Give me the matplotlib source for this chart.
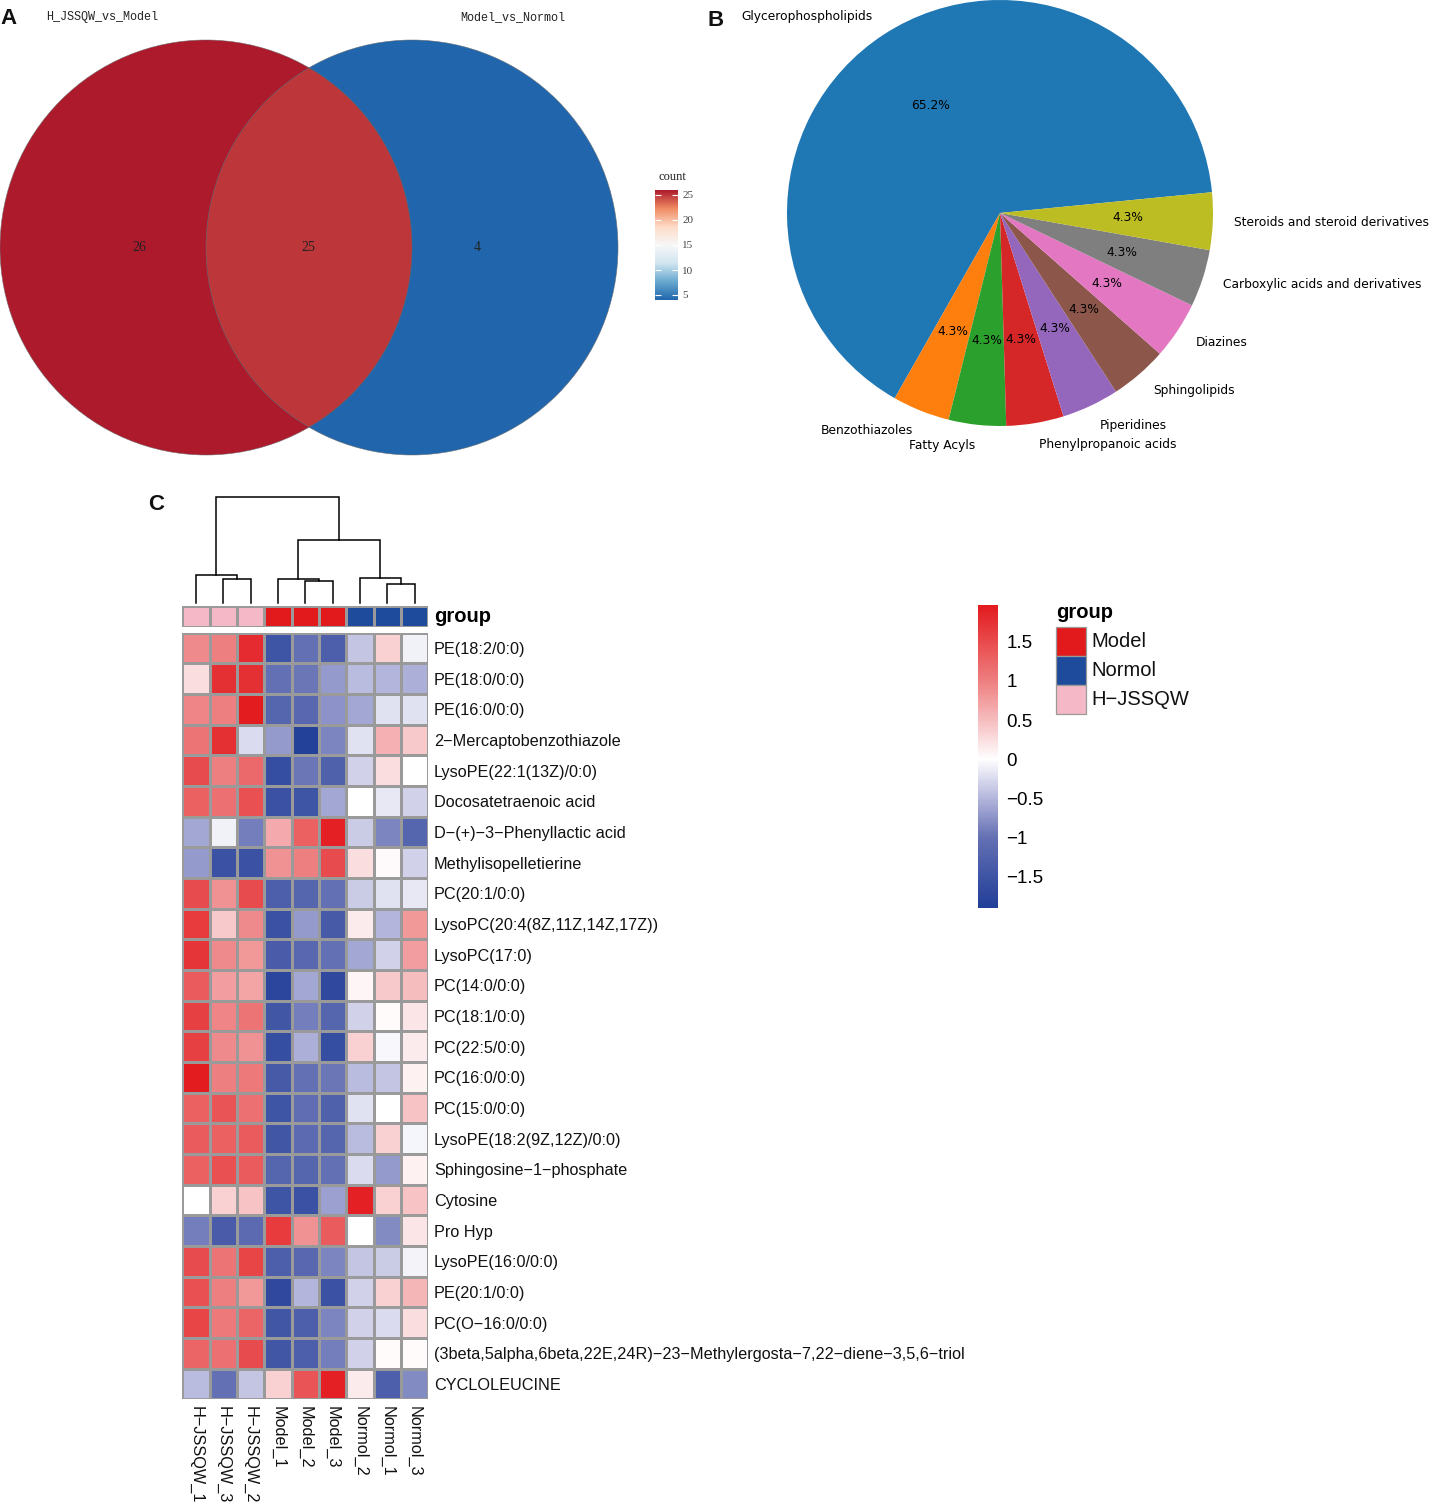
import numpy as np
import matplotlib
matplotlib.use("Agg")
import matplotlib.pyplot as plt
from matplotlib.patches import Ellipse, Rectangle
from matplotlib.colors import LinearSegmentedColormap, Normalize, ListedColormap
import matplotlib.colorbar as mcolorbar

# ---------------- data ----------------
venn_sets = ["H_JSSQW_vs_Model", "Model_vs_Normol"]
venn_counts = [26, 25, 4]          # left only, shared, right only
venn_ticks = [5, 10, 15, 20, 25]

pie_labels = ["Glycerophospholipids", "Benzothiazoles", "Fatty Acyls",
              "Phenylpropanoic acids", "Piperidines", "Sphingolipids",
              "Diazines", "Carboxylic acids and derivatives",
              "Steroids and steroid derivatives"]
pie_counts = [15, 1, 1, 1, 1, 1, 1, 1, 1]

heat_cols = ["H−JSSQW_1", "H−JSSQW_3", "H−JSSQW_2", "Model_1", "Model_2",
             "Model_3", "Normol_2", "Normol_1", "Normol_3"]
col_groups = ["H−JSSQW", "H−JSSQW", "H−JSSQW", "Model", "Model", "Model",
              "Normol", "Normol", "Normol"]
group_names = ["Model", "Normol", "H−JSSQW"]

heat_rows = ["PE(18:2/0:0)", "PE(18:0/0:0)", "PE(16:0/0:0)",
             "2−Mercaptobenzothiazole", "LysoPE(22:1(13Z)/0:0)",
             "Docosatetraenoic acid", "D−(+)−3−Phenyllactic acid",
             "Methylisopelletierine", "PC(20:1/0:0)",
             "LysoPC(20:4(8Z,11Z,14Z,17Z))", "LysoPC(17:0)", "PC(14:0/0:0)",
             "PC(18:1/0:0)", "PC(22:5/0:0)", "PC(16:0/0:0)", "PC(15:0/0:0)",
             "LysoPE(18:2(9Z,12Z)/0:0)", "Sphingosine−1−phosphate", "Cytosine",
             "Pro Hyp", "LysoPE(16:0/0:0)", "PE(20:1/0:0)", "PC(O−16:0/0:0)",
             "(3beta,5alpha,6beta,22E,24R)−23−Methylergosta−7,22−diene−3,5,6−triol",
             "CYCLOLEUCINE"]

heat_values = [
    [0.9, 1.0, 1.8, -1.5, -1.0, -1.3, -0.4, 0.35, -0.1],
    [0.25, 1.75, 1.75, -1.0, -0.95, -0.7, -0.45, -0.5, -0.55],
    [0.95, 1.0, 1.95, -1.2, -1.15, -0.75, -0.6, -0.2, -0.2],
    [1.1, 1.75, -0.25, -0.7, -1.85, -0.85, -0.2, 0.6, 0.4],
    [1.5, 1.0, 1.2, -1.6, -0.95, -1.25, -0.3, 0.25, 0.0],
    [1.3, 1.15, 1.45, -1.55, -1.5, -0.6, 0.0, -0.15, -0.3],
    [-0.6, -0.1, -0.9, 0.65, 1.3, 1.9, -0.35, -0.85, -1.2],
    [-0.7, -1.55, -1.55, 0.85, 1.0, 1.5, 0.25, 0.05, -0.3],
    [1.5, 0.85, 1.5, -1.3, -1.2, -1.0, -0.35, -0.2, -0.15],
    [1.65, 0.4, 0.9, -1.55, -0.7, -1.4, 0.15, -0.5, 0.8],
    [1.7, 0.9, 0.8, -1.35, -1.15, -1.0, -0.6, -0.3, 0.75],
    [1.35, 0.75, 0.7, -1.75, -0.6, -1.7, 0.08, 0.4, 0.5],
    [1.6, 0.95, 1.1, -1.45, -0.9, -1.2, -0.3, 0.02, 0.2],
    [1.6, 0.9, 0.85, -1.6, -0.55, -1.6, 0.35, -0.05, 0.15],
    [1.95, 1.0, 1.05, -1.4, -1.0, -0.95, -0.45, -0.4, 0.1],
    [1.3, 1.4, 1.15, -1.5, -1.05, -1.25, -0.2, 0.0, 0.45],
    [1.35, 1.3, 1.35, -1.45, -1.1, -1.2, -0.45, 0.35, -0.07],
    [1.3, 1.45, 1.35, -1.2, -1.2, -1.0, -0.25, -0.7, 0.1],
    [0.0, 0.35, 0.45, -1.5, -1.55, -0.65, 1.9, 0.35, 0.45],
    [-0.9, -1.35, -1.1, 1.65, 0.85, 1.35, 0.0, -0.8, 0.2],
    [1.5, 1.1, 1.55, -1.3, -1.15, -0.85, -0.4, -0.35, -0.08],
    [1.45, 1.0, 0.8, -1.7, -0.5, -1.55, -0.3, 0.35, 0.55],
    [1.55, 1.05, 1.25, -1.45, -1.3, -0.85, -0.3, -0.25, 0.25],
    [1.25, 1.15, 1.5, -1.45, -1.3, -0.9, -0.3, 0.02, 0.02],
    [-0.45, -1.0, -0.4, 0.35, 1.4, 1.9, 0.15, -1.3, -0.8],
]
heat_ticks = [-1.5, -1, -0.5, 0, 0.5, 1, 1.5]

# column dendrogram: (left, right, height); leaves are column indices
col_tree = ((0, (1, 2, 0.232), 0.267),
            ((3, (4, 5, 0.210), 0.229), (6, (7, 8, 0.179), 0.236), 0.597),
            1.0)

# ---------------- layout ----------------
W, H = 1429, 1503
DPI = 100
fig = plt.figure(figsize=(W / DPI, H / DPI), dpi=DPI)


def px_axes(x0, y0, x1, y1):
    return fig.add_axes([x0 / W, 1 - y1 / H, (x1 - x0) / W, (y1 - y0) / H])


base = fig.add_axes([0, 0, 1, 1])
base.set_xlim(0, W)
base.set_ylim(H, 0)
base.axis("off")

# ---------------- A: Venn ----------------
venn_cmap = LinearSegmentedColormap.from_list(
    "rdbu7", ["#2166AC", "#67A9CF", "#D1E5F0", "#F7F7F7", "#FDDBC7", "#EF8A62", "#AC1A2C"])
venn_norm = Normalize(min(venn_counts), max(venn_counts))
cy, ew, eh = 247.5, 412, 415
lcx, rcx = 206, 412
left_e = Ellipse((lcx, cy), ew, eh, facecolor=venn_cmap(venn_norm(venn_counts[0])), edgecolor="none")
right_e = Ellipse((rcx, cy), ew, eh, facecolor=venn_cmap(venn_norm(venn_counts[2])), edgecolor="none")
base.add_patch(left_e)
base.add_patch(right_e)
inter = Ellipse((lcx, cy), ew, eh, facecolor=venn_cmap(venn_norm(venn_counts[1])), edgecolor="none")
base.add_patch(inter)
inter.set_clip_path(right_e)
for cx in (lcx, rcx):
    base.add_patch(Ellipse((cx, cy), ew, eh, fill=False, edgecolor="#666666", lw=0.5, alpha=0.7))

mono = "Liberation Mono"
base.text(102, 17, venn_sets[0], ha="center", va="center", fontsize=8.5, family=mono, color="#222222")
base.text(513, 17, venn_sets[1], ha="center", va="center", fontsize=8.5, family=mono, color="#222222")
for xx, c in zip((139, 308, 477), venn_counts):
    base.text(xx, cy, str(c), ha="center", va="center", fontsize=10, family="Liberation Serif", color="#222222")

vcb_ax = px_axes(655, 190, 678, 300)
vcb = mcolorbar.ColorbarBase(vcb_ax, cmap=venn_cmap, norm=venn_norm, ticks=venn_ticks)
vcb.outline.set_visible(False)
vcb_ax.tick_params(which="both", direction="in", length=4, width=0.8, color="white",
                   left=True, right=True, labelsize=8, labelcolor="#444444", pad=3)
for t in vcb_ax.get_yticklabels():
    t.set_family("Liberation Serif")
vcb_ax.minorticks_off()
base.text(672, 177, "count", ha="center", va="center", fontsize=9, family="Liberation Serif", color="#222222")

# ---------------- B: pie ----------------
pie_ax = px_axes(787, 0, 1213, 426)
wedges, texts, autotexts = pie_ax.pie(
    pie_counts, labels=pie_labels, autopct="%1.1f%%", startangle=5.6,
    labeldistance=1.1, pctdistance=0.6,
    colors=plt.rcParams["axes.prop_cycle"].by_key()["color"][:len(pie_counts)],
    textprops={"fontsize": 8.8, "family": "DejaVu Sans"})
pie_ax.set_xlim(-1, 1)
pie_ax.set_ylim(-1, 1)
pie_ax.set_aspect("equal")

# ---------------- C: heatmap ----------------
vals = np.array(heat_values)
hmin, hmax = -1.9, 1.97
z = -hmin / (hmax - hmin)


def vpos(v):
    return (v - hmin) / (hmax - hmin)


heat_cmap = LinearSegmentedColormap.from_list(
    "bwr_ph", [(0.0, "#213E98"), (vpos(-1.0), "#6470B4"), (vpos(-0.5), "#B4B6DC"),
               (z, "#FFFFFF"),
               (vpos(0.5), "#F6BDBF"), (vpos(1.0), "#EE7F80"), (1.0, "#E31A1E")])
heat_norm = Normalize(hmin, hmax)
grid_col = "#9a9a9a"
sans = "Liberation Sans"

hx0, hx1 = 182.3, 428.3
hy0, hy1 = 632.7, 1399.3
hm_ax = px_axes(hx0, hy0, hx1, hy1)
hm_ax.pcolormesh(vals, cmap=heat_cmap, norm=heat_norm, edgecolors=grid_col, linewidth=0.9)
hm_ax.set_xlim(0, len(heat_cols))
hm_ax.set_ylim(len(heat_rows), 0)
for s in hm_ax.spines.values():
    s.set_visible(False)
hm_ax.yaxis.tick_right()
hm_ax.set_yticks(np.arange(len(heat_rows)) + 0.5)
hm_ax.set_yticklabels(heat_rows, fontsize=11.7, family=sans, color="#111111")
hm_ax.set_xticks(np.arange(len(heat_cols)) + 0.5)
hm_ax.set_xticklabels(heat_cols, fontsize=11.7, family=sans, color="#111111", rotation=270, va="top")
hm_ax.tick_params(length=0, axis="y", pad=4)
hm_ax.tick_params(length=0, axis="x", pad=5)

# group annotation
group_colors = {"Model": "#E31A1C", "Normol": "#1E4B9C", "H−JSSQW": "#F4B8C6"}
grp_ax = px_axes(hx0, 606, hx1, 626.7)
grp_idx = np.array([[group_names.index(g) for g in col_groups]])
grp_ax.pcolormesh(grp_idx, cmap=ListedColormap([group_colors[g] for g in group_names]),
                  vmin=-0.5, vmax=len(group_names) - 0.5, edgecolors=grid_col, linewidth=0.9)
grp_ax.set_xlim(0, len(heat_cols))
grp_ax.set_ylim(1, 0)
grp_ax.axis("off")
base.text(434, 617, "group", ha="left", va="center", fontsize=14.5, family=sans, weight="bold")

# dendrogram
dend_ax = px_axes(hx0, 497.3, hx1, 603.3)
dend_ax.set_xlim(0, len(heat_cols))
dend_ax.set_ylim(0, 1)
dend_ax.axis("off")


def draw_node(node):
    if isinstance(node, int):
        return node + 0.5, 0.0
    left, right, h = node
    xl, hl = draw_node(left)
    xr, hr = draw_node(right)
    dend_ax.plot([xl, xl, xr, xr], [hl, h, h, hr], color="black", lw=1.1,
                 solid_joinstyle="miter", clip_on=False)
    return (xl + xr) / 2, h


draw_node(col_tree)

# heatmap colorbar
hcb_ax = px_axes(978, 605, 998, 908)
hcb = mcolorbar.ColorbarBase(hcb_ax, cmap=heat_cmap, norm=heat_norm, ticks=heat_ticks)
hcb.outline.set_visible(False)
hcb_ax.set_yticklabels([("%g" % t).replace("-", "−") for t in heat_ticks],
                       fontsize=13.5, family=sans)
hcb_ax.tick_params(length=0, pad=6)
hcb_ax.minorticks_off()

# group legend
base.text(1056, 612, "group", ha="left", va="center", fontsize=14.5, family=sans, weight="bold")
for i, g in enumerate(group_names):
    y = 627 + i * 29
    base.add_patch(Rectangle((1056, y), 30, 29, facecolor=group_colors[g], edgecolor=grid_col, lw=0.9))
    base.text(1091, y + 14.5, g, ha="left", va="center", fontsize=14.5, family=sans, color="#111111")

# panel letters
for letter, (lx, ly) in {"A": (9, 19), "B": (716, 20), "C": (156, 504)}.items():
    base.text(lx, ly, letter, ha="center", va="center", fontsize=16, weight="bold",
              family=sans, color="#111111")

fig.savefig("out.png", dpi=DPI)
